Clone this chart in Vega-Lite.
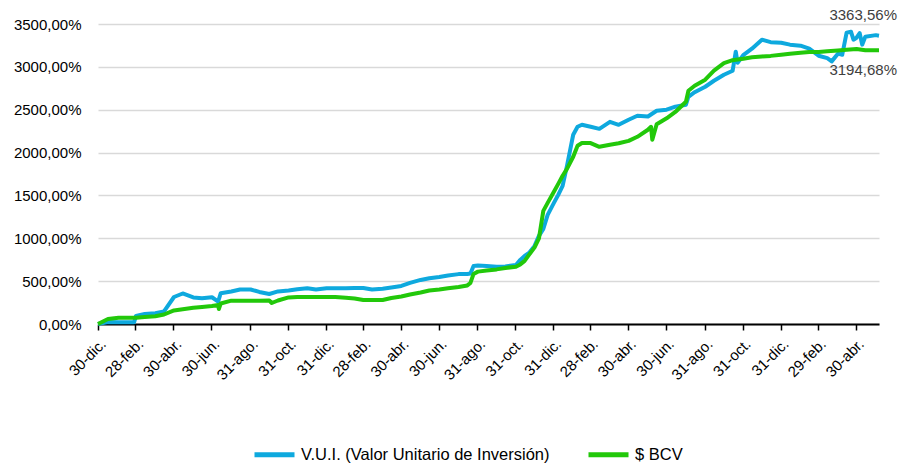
{
"$schema": "https://vega.github.io/schema/vega-lite/v6.json",
"width": 781, "height": 300, "autosize": "none",
"padding": {"left": 98, "top": 24, "right": 19, "bottom": 142},
"background": "white",
"config": {"view": {"stroke": null}, "font": "Liberation Sans"},
"datasets": {
"series": [
{"fecha":"2020-12-30","serie":"V.U.I. (Valor Unitario de Inversión)","valor":0},
{"fecha":"2021-01-15","serie":"V.U.I. (Valor Unitario de Inversión)","valor":23},
{"fecha":"2021-02-01","serie":"V.U.I. (Valor Unitario de Inversión)","valor":20},
{"fecha":"2021-02-15","serie":"V.U.I. (Valor Unitario de Inversión)","valor":20},
{"fecha":"2021-02-26","serie":"V.U.I. (Valor Unitario de Inversión)","valor":20},
{"fecha":"2021-03-01","serie":"V.U.I. (Valor Unitario de Inversión)","valor":95},
{"fecha":"2021-03-15","serie":"V.U.I. (Valor Unitario de Inversión)","valor":117},
{"fecha":"2021-04-01","serie":"V.U.I. (Valor Unitario de Inversión)","valor":125},
{"fecha":"2021-04-15","serie":"V.U.I. (Valor Unitario de Inversión)","valor":146},
{"fecha":"2021-05-01","serie":"V.U.I. (Valor Unitario de Inversión)","valor":315},
{"fecha":"2021-05-15","serie":"V.U.I. (Valor Unitario de Inversión)","valor":356},
{"fecha":"2021-06-01","serie":"V.U.I. (Valor Unitario de Inversión)","valor":310},
{"fecha":"2021-06-15","serie":"V.U.I. (Valor Unitario de Inversión)","valor":300},
{"fecha":"2021-07-01","serie":"V.U.I. (Valor Unitario de Inversión)","valor":312},
{"fecha":"2021-07-11","serie":"V.U.I. (Valor Unitario de Inversión)","valor":262},
{"fecha":"2021-07-15","serie":"V.U.I. (Valor Unitario de Inversión)","valor":359},
{"fecha":"2021-08-01","serie":"V.U.I. (Valor Unitario de Inversión)","valor":380},
{"fecha":"2021-08-15","serie":"V.U.I. (Valor Unitario de Inversión)","valor":403},
{"fecha":"2021-09-01","serie":"V.U.I. (Valor Unitario de Inversión)","valor":403},
{"fecha":"2021-09-15","serie":"V.U.I. (Valor Unitario de Inversión)","valor":374},
{"fecha":"2021-10-01","serie":"V.U.I. (Valor Unitario de Inversión)","valor":350},
{"fecha":"2021-10-15","serie":"V.U.I. (Valor Unitario de Inversión)","valor":380},
{"fecha":"2021-11-01","serie":"V.U.I. (Valor Unitario de Inversión)","valor":391},
{"fecha":"2021-11-15","serie":"V.U.I. (Valor Unitario de Inversión)","valor":405},
{"fecha":"2021-12-01","serie":"V.U.I. (Valor Unitario de Inversión)","valor":417},
{"fecha":"2021-12-15","serie":"V.U.I. (Valor Unitario de Inversión)","valor":403},
{"fecha":"2022-01-01","serie":"V.U.I. (Valor Unitario de Inversión)","valor":417},
{"fecha":"2022-01-15","serie":"V.U.I. (Valor Unitario de Inversión)","valor":417},
{"fecha":"2022-02-01","serie":"V.U.I. (Valor Unitario de Inversión)","valor":417},
{"fecha":"2022-02-15","serie":"V.U.I. (Valor Unitario de Inversión)","valor":420},
{"fecha":"2022-03-01","serie":"V.U.I. (Valor Unitario de Inversión)","valor":420},
{"fecha":"2022-03-15","serie":"V.U.I. (Valor Unitario de Inversión)","valor":403},
{"fecha":"2022-04-01","serie":"V.U.I. (Valor Unitario de Inversión)","valor":412},
{"fecha":"2022-04-15","serie":"V.U.I. (Valor Unitario de Inversión)","valor":426},
{"fecha":"2022-05-01","serie":"V.U.I. (Valor Unitario de Inversión)","valor":444},
{"fecha":"2022-05-15","serie":"V.U.I. (Valor Unitario de Inversión)","valor":479},
{"fecha":"2022-06-01","serie":"V.U.I. (Valor Unitario de Inversión)","valor":514},
{"fecha":"2022-06-15","serie":"V.U.I. (Valor Unitario de Inversión)","valor":534},
{"fecha":"2022-07-01","serie":"V.U.I. (Valor Unitario de Inversión)","valor":549},
{"fecha":"2022-07-15","serie":"V.U.I. (Valor Unitario de Inversión)","valor":566},
{"fecha":"2022-08-01","serie":"V.U.I. (Valor Unitario de Inversión)","valor":582},
{"fecha":"2022-08-15","serie":"V.U.I. (Valor Unitario de Inversión)","valor":584},
{"fecha":"2022-08-20","serie":"V.U.I. (Valor Unitario de Inversión)","valor":590},
{"fecha":"2022-08-25","serie":"V.U.I. (Valor Unitario de Inversión)","valor":677},
{"fecha":"2022-09-01","serie":"V.U.I. (Valor Unitario de Inversión)","valor":683},
{"fecha":"2022-09-15","serie":"V.U.I. (Valor Unitario de Inversión)","valor":677},
{"fecha":"2022-10-01","serie":"V.U.I. (Valor Unitario de Inversión)","valor":669},
{"fecha":"2022-10-15","serie":"V.U.I. (Valor Unitario de Inversión)","valor":672},
{"fecha":"2022-11-01","serie":"V.U.I. (Valor Unitario de Inversión)","valor":689},
{"fecha":"2022-11-08","serie":"V.U.I. (Valor Unitario de Inversión)","valor":748},
{"fecha":"2022-11-15","serie":"V.U.I. (Valor Unitario de Inversión)","valor":794},
{"fecha":"2022-11-22","serie":"V.U.I. (Valor Unitario de Inversión)","valor":829},
{"fecha":"2022-12-01","serie":"V.U.I. (Valor Unitario de Inversión)","valor":911},
{"fecha":"2022-12-08","serie":"V.U.I. (Valor Unitario de Inversión)","valor":1028},
{"fecha":"2022-12-15","serie":"V.U.I. (Valor Unitario de Inversión)","valor":1110},
{"fecha":"2022-12-22","serie":"V.U.I. (Valor Unitario de Inversión)","valor":1273},
{"fecha":"2023-01-01","serie":"V.U.I. (Valor Unitario de Inversión)","valor":1413},
{"fecha":"2023-01-08","serie":"V.U.I. (Valor Unitario de Inversión)","valor":1507},
{"fecha":"2023-01-15","serie":"V.U.I. (Valor Unitario de Inversión)","valor":1612},
{"fecha":"2023-01-22","serie":"V.U.I. (Valor Unitario de Inversión)","valor":1845},
{"fecha":"2023-02-01","serie":"V.U.I. (Valor Unitario de Inversión)","valor":2208},
{"fecha":"2023-02-08","serie":"V.U.I. (Valor Unitario de Inversión)","valor":2301},
{"fecha":"2023-02-15","serie":"V.U.I. (Valor Unitario de Inversión)","valor":2324},
{"fecha":"2023-03-01","serie":"V.U.I. (Valor Unitario de Inversión)","valor":2301},
{"fecha":"2023-03-15","serie":"V.U.I. (Valor Unitario de Inversión)","valor":2277},
{"fecha":"2023-04-01","serie":"V.U.I. (Valor Unitario de Inversión)","valor":2359},
{"fecha":"2023-04-15","serie":"V.U.I. (Valor Unitario de Inversión)","valor":2324},
{"fecha":"2023-05-01","serie":"V.U.I. (Valor Unitario de Inversión)","valor":2383},
{"fecha":"2023-05-15","serie":"V.U.I. (Valor Unitario de Inversión)","valor":2429},
{"fecha":"2023-06-01","serie":"V.U.I. (Valor Unitario de Inversión)","valor":2421},
{"fecha":"2023-06-15","serie":"V.U.I. (Valor Unitario de Inversión)","valor":2488},
{"fecha":"2023-07-01","serie":"V.U.I. (Valor Unitario de Inversión)","valor":2500},
{"fecha":"2023-07-15","serie":"V.U.I. (Valor Unitario de Inversión)","valor":2535},
{"fecha":"2023-08-01","serie":"V.U.I. (Valor Unitario de Inversión)","valor":2558},
{"fecha":"2023-08-05","serie":"V.U.I. (Valor Unitario de Inversión)","valor":2651},
{"fecha":"2023-08-15","serie":"V.U.I. (Valor Unitario de Inversión)","valor":2704},
{"fecha":"2023-09-01","serie":"V.U.I. (Valor Unitario de Inversión)","valor":2768},
{"fecha":"2023-09-15","serie":"V.U.I. (Valor Unitario de Inversión)","valor":2838},
{"fecha":"2023-10-01","serie":"V.U.I. (Valor Unitario de Inversión)","valor":2908},
{"fecha":"2023-10-15","serie":"V.U.I. (Valor Unitario de Inversión)","valor":2955},
{"fecha":"2023-10-20","serie":"V.U.I. (Valor Unitario de Inversión)","valor":3177},
{"fecha":"2023-10-23","serie":"V.U.I. (Valor Unitario de Inversión)","valor":3048},
{"fecha":"2023-11-01","serie":"V.U.I. (Valor Unitario de Inversión)","valor":3136},
{"fecha":"2023-11-15","serie":"V.U.I. (Valor Unitario de Inversión)","valor":3212},
{"fecha":"2023-12-01","serie":"V.U.I. (Valor Unitario de Inversión)","valor":3317},
{"fecha":"2023-12-15","serie":"V.U.I. (Valor Unitario de Inversión)","valor":3288},
{"fecha":"2024-01-01","serie":"V.U.I. (Valor Unitario de Inversión)","valor":3282},
{"fecha":"2024-01-15","serie":"V.U.I. (Valor Unitario de Inversión)","valor":3259},
{"fecha":"2024-02-01","serie":"V.U.I. (Valor Unitario de Inversión)","valor":3247},
{"fecha":"2024-02-15","serie":"V.U.I. (Valor Unitario de Inversión)","valor":3212},
{"fecha":"2024-03-01","serie":"V.U.I. (Valor Unitario de Inversión)","valor":3130},
{"fecha":"2024-03-15","serie":"V.U.I. (Valor Unitario de Inversión)","valor":3101},
{"fecha":"2024-03-22","serie":"V.U.I. (Valor Unitario de Inversión)","valor":3064},
{"fecha":"2024-04-01","serie":"V.U.I. (Valor Unitario de Inversión)","valor":3154},
{"fecha":"2024-04-08","serie":"V.U.I. (Valor Unitario de Inversión)","valor":3142},
{"fecha":"2024-04-15","serie":"V.U.I. (Valor Unitario de Inversión)","valor":3399},
{"fecha":"2024-04-22","serie":"V.U.I. (Valor Unitario de Inversión)","valor":3410},
{"fecha":"2024-04-26","serie":"V.U.I. (Valor Unitario de Inversión)","valor":3317},
{"fecha":"2024-05-01","serie":"V.U.I. (Valor Unitario de Inversión)","valor":3340},
{"fecha":"2024-05-06","serie":"V.U.I. (Valor Unitario de Inversión)","valor":3393},
{"fecha":"2024-05-10","serie":"V.U.I. (Valor Unitario de Inversión)","valor":3259},
{"fecha":"2024-05-15","serie":"V.U.I. (Valor Unitario de Inversión)","valor":3352},
{"fecha":"2024-06-01","serie":"V.U.I. (Valor Unitario de Inversión)","valor":3370},
{"fecha":"2024-06-06","serie":"V.U.I. (Valor Unitario de Inversión)","valor":3363.56},
{"fecha":"2020-12-30","serie":"$ BCV","valor":0},
{"fecha":"2021-01-15","serie":"$ BCV","valor":58},
{"fecha":"2021-02-01","serie":"$ BCV","valor":74},
{"fecha":"2021-02-15","serie":"$ BCV","valor":74},
{"fecha":"2021-03-01","serie":"$ BCV","valor":74},
{"fecha":"2021-03-15","serie":"$ BCV","valor":82},
{"fecha":"2021-04-01","serie":"$ BCV","valor":90},
{"fecha":"2021-04-15","serie":"$ BCV","valor":111},
{"fecha":"2021-05-01","serie":"$ BCV","valor":158},
{"fecha":"2021-05-15","serie":"$ BCV","valor":172},
{"fecha":"2021-06-01","serie":"$ BCV","valor":190},
{"fecha":"2021-06-15","serie":"$ BCV","valor":199},
{"fecha":"2021-07-01","serie":"$ BCV","valor":210},
{"fecha":"2021-07-11","serie":"$ BCV","valor":222},
{"fecha":"2021-07-12","serie":"$ BCV","valor":175},
{"fecha":"2021-07-15","serie":"$ BCV","valor":239},
{"fecha":"2021-08-01","serie":"$ BCV","valor":272},
{"fecha":"2021-08-15","serie":"$ BCV","valor":272},
{"fecha":"2021-09-01","serie":"$ BCV","valor":272},
{"fecha":"2021-09-15","serie":"$ BCV","valor":272},
{"fecha":"2021-10-01","serie":"$ BCV","valor":274},
{"fecha":"2021-10-05","serie":"$ BCV","valor":245},
{"fecha":"2021-10-15","serie":"$ BCV","valor":274},
{"fecha":"2021-11-01","serie":"$ BCV","valor":310},
{"fecha":"2021-11-15","serie":"$ BCV","valor":315},
{"fecha":"2021-12-01","serie":"$ BCV","valor":315},
{"fecha":"2021-12-15","serie":"$ BCV","valor":315},
{"fecha":"2022-01-01","serie":"$ BCV","valor":315},
{"fecha":"2022-01-15","serie":"$ BCV","valor":315},
{"fecha":"2022-02-01","serie":"$ BCV","valor":307},
{"fecha":"2022-02-15","serie":"$ BCV","valor":298},
{"fecha":"2022-03-01","serie":"$ BCV","valor":280},
{"fecha":"2022-03-15","serie":"$ BCV","valor":280},
{"fecha":"2022-04-01","serie":"$ BCV","valor":280},
{"fecha":"2022-04-15","serie":"$ BCV","valor":304},
{"fecha":"2022-05-01","serie":"$ BCV","valor":321},
{"fecha":"2022-05-15","serie":"$ BCV","valor":345},
{"fecha":"2022-06-01","serie":"$ BCV","valor":368},
{"fecha":"2022-06-15","serie":"$ BCV","valor":391},
{"fecha":"2022-07-01","serie":"$ BCV","valor":403},
{"fecha":"2022-07-15","serie":"$ BCV","valor":417},
{"fecha":"2022-08-01","serie":"$ BCV","valor":432},
{"fecha":"2022-08-15","serie":"$ BCV","valor":450},
{"fecha":"2022-08-20","serie":"$ BCV","valor":479},
{"fecha":"2022-08-25","serie":"$ BCV","valor":584},
{"fecha":"2022-09-01","serie":"$ BCV","valor":611},
{"fecha":"2022-09-15","serie":"$ BCV","valor":623},
{"fecha":"2022-10-01","serie":"$ BCV","valor":637},
{"fecha":"2022-10-15","serie":"$ BCV","valor":654},
{"fecha":"2022-11-01","serie":"$ BCV","valor":669},
{"fecha":"2022-11-08","serie":"$ BCV","valor":695},
{"fecha":"2022-11-15","serie":"$ BCV","valor":736},
{"fecha":"2022-11-22","serie":"$ BCV","valor":806},
{"fecha":"2022-12-01","serie":"$ BCV","valor":894},
{"fecha":"2022-12-08","serie":"$ BCV","valor":999},
{"fecha":"2022-12-15","serie":"$ BCV","valor":1320},
{"fecha":"2022-12-22","serie":"$ BCV","valor":1413},
{"fecha":"2023-01-01","serie":"$ BCV","valor":1542},
{"fecha":"2023-01-08","serie":"$ BCV","valor":1635},
{"fecha":"2023-01-15","serie":"$ BCV","valor":1729},
{"fecha":"2023-01-22","serie":"$ BCV","valor":1810},
{"fecha":"2023-02-01","serie":"$ BCV","valor":1951},
{"fecha":"2023-02-08","serie":"$ BCV","valor":2079},
{"fecha":"2023-02-15","serie":"$ BCV","valor":2111},
{"fecha":"2023-03-01","serie":"$ BCV","valor":2111},
{"fecha":"2023-03-15","serie":"$ BCV","valor":2067},
{"fecha":"2023-04-01","serie":"$ BCV","valor":2091},
{"fecha":"2023-04-15","serie":"$ BCV","valor":2108},
{"fecha":"2023-05-01","serie":"$ BCV","valor":2137},
{"fecha":"2023-05-15","serie":"$ BCV","valor":2184},
{"fecha":"2023-06-01","serie":"$ BCV","valor":2266},
{"fecha":"2023-06-06","serie":"$ BCV","valor":2301},
{"fecha":"2023-06-08","serie":"$ BCV","valor":2149},
{"fecha":"2023-06-15","serie":"$ BCV","valor":2330},
{"fecha":"2023-07-01","serie":"$ BCV","valor":2400},
{"fecha":"2023-07-15","serie":"$ BCV","valor":2474},
{"fecha":"2023-08-01","serie":"$ BCV","valor":2593},
{"fecha":"2023-08-05","serie":"$ BCV","valor":2721},
{"fecha":"2023-08-15","serie":"$ BCV","valor":2780},
{"fecha":"2023-09-01","serie":"$ BCV","valor":2850},
{"fecha":"2023-09-15","serie":"$ BCV","valor":2955},
{"fecha":"2023-10-01","serie":"$ BCV","valor":3043},
{"fecha":"2023-10-15","serie":"$ BCV","valor":3078},
{"fecha":"2023-11-01","serie":"$ BCV","valor":3095},
{"fecha":"2023-11-15","serie":"$ BCV","valor":3113},
{"fecha":"2023-12-01","serie":"$ BCV","valor":3122},
{"fecha":"2023-12-15","serie":"$ BCV","valor":3128},
{"fecha":"2024-01-01","serie":"$ BCV","valor":3142},
{"fecha":"2024-01-15","serie":"$ BCV","valor":3154},
{"fecha":"2024-02-01","serie":"$ BCV","valor":3165},
{"fecha":"2024-02-15","serie":"$ BCV","valor":3173},
{"fecha":"2024-03-01","serie":"$ BCV","valor":3173},
{"fecha":"2024-03-15","serie":"$ BCV","valor":3181},
{"fecha":"2024-04-01","serie":"$ BCV","valor":3191},
{"fecha":"2024-04-15","serie":"$ BCV","valor":3200},
{"fecha":"2024-05-01","serie":"$ BCV","valor":3208},
{"fecha":"2024-05-15","serie":"$ BCV","valor":3194},
{"fecha":"2024-06-01","serie":"$ BCV","valor":3194},
{"fecha":"2024-06-06","serie":"$ BCV","valor":3194.68}
]},
"data": {"name": "series"},
"encoding": {
  "x": {"field": "fecha", "type": "temporal",
    "scale": {"type": "utc", "domain": [{"year": 2020, "month": 12, "date": 30, "utc": true}, {"year": 2024, "month": 6, "date": 6, "utc": true}]},
    "axis": {"title": null, "grid": false,
      "values": [
        {"year": 2020, "month": 12, "date": 30, "utc": true},
        {"year": 2021, "month": 2, "date": 28, "utc": true},
        {"year": 2021, "month": 4, "date": 30, "utc": true},
        {"year": 2021, "month": 6, "date": 30, "utc": true},
        {"year": 2021, "month": 8, "date": 31, "utc": true},
        {"year": 2021, "month": 10, "date": 31, "utc": true},
        {"year": 2021, "month": 12, "date": 31, "utc": true},
        {"year": 2022, "month": 2, "date": 28, "utc": true},
        {"year": 2022, "month": 4, "date": 30, "utc": true},
        {"year": 2022, "month": 6, "date": 30, "utc": true},
        {"year": 2022, "month": 8, "date": 31, "utc": true},
        {"year": 2022, "month": 10, "date": 31, "utc": true},
        {"year": 2022, "month": 12, "date": 31, "utc": true},
        {"year": 2023, "month": 2, "date": 28, "utc": true},
        {"year": 2023, "month": 4, "date": 30, "utc": true},
        {"year": 2023, "month": 6, "date": 30, "utc": true},
        {"year": 2023, "month": 8, "date": 31, "utc": true},
        {"year": 2023, "month": 10, "date": 31, "utc": true},
        {"year": 2023, "month": 12, "date": 31, "utc": true},
        {"year": 2024, "month": 2, "date": 29, "utc": true},
        {"year": 2024, "month": 4, "date": 30, "utc": true}
      ],
      "labelExpr": "utcdate(datum.value) + '-' + ['ene.','feb.','mar.','abr.','may.','jun.','jul.','ago.','sep.','oct.','nov.','dic.'][utcmonth(datum.value)]",
      "labelAngle": -45, "labelAlign": "right", "labelBaseline": "top",
      "labelFont": "Liberation Sans", "labelFontSize": 15, "labelColor": "#000000",
      "labelPadding": 6, "labelOverlap": false, "labelFlush": false,
      "domainColor": "#000000", "domainWidth": 2, "tickColor": "#000000", "tickWidth": 1.5, "tickSize": 6}},
  "y": {"field": "valor", "type": "quantitative",
    "scale": {"domain": [0, 3500], "nice": false},
    "axis": {"title": null, "values": [0, 500, 1000, 1500, 2000, 2500, 3000, 3500],
      "labelExpr": "replace(format(datum.value, '.2f'), '.', ',') + '%'",
      "domain": false, "ticks": false, "gridColor": "#d9d9d9", "gridWidth": 1.5,
      "labelFont": "Liberation Sans", "labelFontSize": 15, "labelColor": "#000000", "labelPadding": 17}}
},
"layer": [
  {"mark": {"type": "line", "strokeWidth": 4, "strokeJoin": "round"},
   "encoding": {
     "color": {"field": "serie", "type": "nominal",
       "scale": {"domain": ["V.U.I. (Valor Unitario de Inversión)", "$ BCV"], "range": ["#0EA9DE", "#22C80A"]},
       "legend": {"title": null, "orient": "none", "legendX": 154, "legendY": 408, "direction": "horizontal",
         "symbolType": "stroke", "symbolStrokeWidth": 5, "symbolSize": 1600,
         "labelFont": "Liberation Sans", "labelFontSize": 16.5, "labelColor": "#000000",
         "labelOffset": 4, "columnPadding": 28, "labelLimit": 400}}}},
  {"transform": [{"filter": "utcyear(datum.fecha) == 2024 && utcmonth(datum.fecha) == 5 && utcdate(datum.fecha) == 6 && datum.serie == '$ BCV'"},
                 {"calculate": "replace(format(datum.valor, '.2f'), '.', ',') + '%'", "as": "etiqueta"}],
   "mark": {"type": "text", "align": "right", "baseline": "middle", "dx": 18, "dy": 20,
            "font": "Liberation Sans", "fontSize": 15, "color": "#404040"},
   "encoding": {"text": {"field": "etiqueta"}}},
  {"transform": [{"filter": "utcyear(datum.fecha) == 2024 && utcmonth(datum.fecha) == 5 && utcdate(datum.fecha) == 6 && datum.serie != '$ BCV'"},
                 {"calculate": "replace(format(datum.valor, '.2f'), '.', ',') + '%'", "as": "etiqueta"}],
   "mark": {"type": "text", "align": "right", "baseline": "middle", "dx": 18, "dy": -21,
            "font": "Liberation Sans", "fontSize": 15, "color": "#404040"},
   "encoding": {"text": {"field": "etiqueta"}}}
]
}
